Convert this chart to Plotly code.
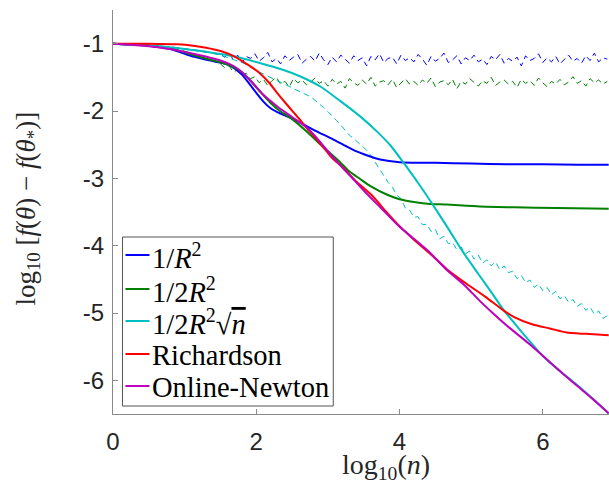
import plotly.graph_objects as go

# ---------------- data ----------------
# solid curves (log10(n), log10 excess risk)
blue_x = [0.0, 0.4, 0.8, 1.12, 1.4, 1.6, 1.7, 1.8, 1.9, 2.0, 2.1, 2.2, 2.3, 2.43, 2.61, 2.8, 3.07, 3.25, 3.4, 3.55, 3.73, 4.0, 4.5, 5.0, 5.5, 6.0, 6.5, 6.92]
blue_y = [-1.0, -1.02, -1.08, -1.19, -1.26, -1.31, -1.37, -1.46, -1.59, -1.73, -1.86, -1.96, -2.02, -2.08, -2.17, -2.28, -2.42, -2.52, -2.6, -2.66, -2.72, -2.76, -2.77, -2.78, -2.79, -2.79, -2.8, -2.8]

green_x = [0.0, 0.4, 0.8, 1.12, 1.4, 1.6, 1.8, 1.92, 2.06, 2.2, 2.33, 2.5, 2.7, 2.9, 3.17, 3.3, 3.45, 3.6, 3.82, 4.0, 4.2, 4.43, 4.66, 5.12, 5.6, 6.2, 6.92]
green_y = [-1.0, -1.02, -1.07, -1.17, -1.25, -1.31, -1.42, -1.55, -1.72, -1.88, -2.0, -2.12, -2.3, -2.5, -2.76, -2.9, -3.01, -3.12, -3.24, -3.31, -3.35, -3.38, -3.39, -3.42, -3.43, -3.44, -3.45]

cyan_x = [0.0, 0.66, 1.0, 1.36, 1.7, 2.06, 2.35, 2.6, 2.9, 3.17, 3.45, 3.69, 3.88, 4.05, 4.26, 4.5, 4.7, 4.89, 5.1, 5.3, 5.45, 5.68, 5.85, 6.0, 6.2, 6.4, 6.6, 6.8, 6.92]
cyan_y = [-1.0, -1.04, -1.08, -1.13, -1.19, -1.29, -1.38, -1.48, -1.64, -1.85, -2.08, -2.31, -2.52, -2.76, -3.07, -3.45, -3.78, -4.1, -4.42, -4.72, -4.95, -5.25, -5.46, -5.64, -5.83, -6.0, -6.18, -6.37, -6.49]

red_x = [0.0, 0.5, 0.9, 1.12, 1.3, 1.5, 1.68, 1.82, 1.95, 2.06, 2.18, 2.29, 2.4, 2.52, 2.61, 2.71, 2.85, 2.99, 3.07, 3.21, 3.4, 3.63, 3.8, 4.0, 4.19, 4.47, 4.66, 4.94, 5.2, 5.45, 5.6, 5.86, 6.1, 6.33, 6.6, 6.92]
red_y = [-1.0, -1.0, -1.01, -1.03, -1.06, -1.11, -1.18, -1.27, -1.36, -1.45, -1.58, -1.73, -1.87, -2.02, -2.13, -2.26, -2.43, -2.61, -2.71, -2.84, -3.05, -3.27, -3.48, -3.71, -3.9, -4.16, -4.35, -4.57, -4.76, -4.96, -5.06, -5.17, -5.23, -5.29, -5.31, -5.33]

magenta_x = [0.0, 0.43, 0.8, 1.12, 1.4, 1.6, 1.75, 1.92, 2.1, 2.29, 2.5, 2.71, 2.9, 3.07, 3.3, 3.5, 3.73, 4.0, 4.19, 4.4, 4.66, 4.9, 5.12, 5.3, 5.5, 5.8, 6.1, 6.3, 6.5, 6.7, 6.92]
magenta_y = [-1.0, -1.03, -1.08, -1.15, -1.22, -1.29, -1.38, -1.55, -1.76, -1.93, -2.09, -2.25, -2.47, -2.69, -2.95, -3.18, -3.43, -3.72, -3.89, -4.08, -4.36, -4.58, -4.82, -5.0, -5.19, -5.45, -5.73, -5.92, -6.1, -6.28, -6.49]

# dashed (noisy) curves, common abscissa
dash_x = [0.0, 0.3, 0.6, 0.9, 1.2,
          1.50, 1.56, 1.62, 1.68, 1.74, 1.80, 1.86, 1.92, 1.98, 2.04,
          2.10, 2.16, 2.22, 2.28, 2.34, 2.40, 2.46, 2.52, 2.58, 2.64,
          2.70, 2.76, 2.82, 2.88, 2.94, 3.00, 3.06, 3.12, 3.18, 3.24,
          3.30, 3.36, 3.42, 3.48, 3.54, 3.60, 3.66, 3.72, 3.78, 3.84,
          3.90, 3.96, 4.02, 4.08, 4.14, 4.20, 4.26, 4.32, 4.38, 4.44,
          4.50, 4.56, 4.62, 4.68, 4.74, 4.80, 4.86, 4.92, 4.98, 5.04,
          5.10, 5.16, 5.22, 5.28, 5.34, 5.40, 5.46, 5.52, 5.58, 5.64,
          5.70, 5.76, 5.82, 5.88, 5.94, 6.00, 6.06, 6.12, 6.18, 6.24,
          6.30, 6.36, 6.42, 6.48, 6.54, 6.60, 6.66, 6.72, 6.78, 6.84,
          6.90]

blue_dash_y = [-1.0, -1.01, -1.03, -1.06, -1.11,
               -1.16, -1.20, -1.14, -1.24, -1.17, -1.28, -1.19, -1.22, -1.15, -1.26,
               -1.21, -1.13, -1.27, -1.22, -1.30, -1.18, -1.25, -1.20, -1.16, -1.29,
               -1.23, -1.19, -1.26, -1.14, -1.24, -1.31, -1.20, -1.27, -1.17, -1.23,
               -1.29, -1.18, -1.25, -1.21, -1.33, -1.19, -1.24, -1.15, -1.28, -1.22,
               -1.20, -1.30, -1.17, -1.25, -1.21, -1.27, -1.16, -1.23, -1.32, -1.19,
               -1.26, -1.22, -1.14, -1.28, -1.24, -1.18, -1.30, -1.21, -1.25, -1.17,
               -1.27, -1.23, -1.31, -1.19, -1.24, -1.16, -1.29, -1.22, -1.26, -1.20,
               -1.33, -1.18, -1.25, -1.22, -1.15, -1.28, -1.21, -1.27, -1.19, -1.30,
               -1.24, -1.17, -1.26, -1.22, -1.29, -1.18, -1.25, -1.14, -1.27, -1.21,
               -1.23]

green_dash_y = [-1.0, -1.01, -1.04, -1.08, -1.18,
                -1.30, -1.36, -1.33, -1.42, -1.39, -1.47, -1.44, -1.52, -1.49, -1.58,
                -1.53, -1.62, -1.55, -1.50, -1.60, -1.56, -1.64, -1.52, -1.58, -1.54,
                -1.61, -1.57, -1.51, -1.59, -1.55, -1.63, -1.53, -1.60, -1.56, -1.66,
                -1.52, -1.58, -1.62, -1.54, -1.60, -1.50, -1.63, -1.57, -1.55, -1.61,
                -1.53, -1.65, -1.58, -1.52, -1.60, -1.56, -1.62, -1.54, -1.59, -1.51,
                -1.64, -1.57, -1.55, -1.61, -1.53, -1.67, -1.56, -1.60, -1.52, -1.58,
                -1.63, -1.55, -1.59, -1.50, -1.62, -1.57, -1.54, -1.60, -1.56, -1.65,
                -1.53, -1.59, -1.55, -1.62, -1.51, -1.58, -1.64, -1.56, -1.60, -1.53,
                -1.61, -1.57, -1.49, -1.59, -1.55, -1.63, -1.52, -1.58, -1.54, -1.60,
                -1.56]

cyan_dash_y = [-1.0, -1.01, -1.03, -1.06, -1.10,
               -1.17, -1.19, -1.21, -1.23, -1.25, -1.28, -1.31, -1.35, -1.39, -1.42,
               -1.45, -1.48, -1.51, -1.54, -1.57, -1.60, -1.63, -1.66, -1.69, -1.72,
               -1.75, -1.79, -1.84, -1.89, -1.95, -2.01, -2.07, -2.14, -2.21, -2.29,
               -2.36, -2.41, -2.47, -2.52, -2.58, -2.66, -2.76, -2.86, -2.95, -3.06,
               -3.13, -3.25, -3.30, -3.44, -3.47, -3.58, -3.57, -3.69, -3.68, -3.79,
               -3.76, -3.90, -3.86, -3.97, -3.95, -4.06, -4.02, -4.12, -4.08, -4.20,
               -4.14, -4.26, -4.21, -4.30, -4.24, -4.36, -4.30, -4.40, -4.38, -4.49,
               -4.44, -4.55, -4.51, -4.62, -4.57, -4.67, -4.62, -4.73, -4.68, -4.79,
               -4.74, -4.84, -4.80, -4.90, -4.86, -4.96, -4.91, -5.02, -4.97, -5.08,
               -5.04]

x_tickvals = [0, 2, 4, 6]
x_ticktext = ["0", "2", "4", "6"]
y_tickvals = [-6, -5, -4, -3, -2, -1]
y_ticktext = ["-6", "-5", "-4", "-3", "-2", "-1"]

legend_labels = ["1/<i>R</i><sup>2</sup>",
                 "1/2<i>R</i><sup>2</sup>",
                 "1/2<i>R</i><sup>2</sup>\u221a<span style=\"text-decoration:overline\"><i>n</i></span>",
                 "Richardson",
                 "Online-Newton"]

# ---------------- style ----------------
C_BLUE = "rgb(0,0,255)"
C_GREEN = "rgb(0,128,0)"
C_CYAN = "rgb(0,191,191)"
C_RED = "rgb(255,0,0)"
C_MAG = "rgb(191,0,191)"
legend_colors = [C_BLUE, C_GREEN, C_CYAN, C_RED, C_MAG]

W, H = 609, 486
# plot area in image pixels
L, R, T, B = 112.5, 609.0, 10.0, 414.0
AXC = "#8a8a8a"
TXT = "#262626"
SERIF = "Liberation Serif, Times New Roman, serif"
SANS = "Liberation Sans, Arial, sans-serif"


def pxx(p):
    return (p - L) / (R - L)


def pxy(p):
    return (B - p) / (B - T)


fig = go.Figure()

DASH = "6px,4px"
fig.add_trace(go.Scatter(x=dash_x, y=blue_dash_y, mode="lines",
                         line=dict(color=C_BLUE, width=1, dash=DASH)))
fig.add_trace(go.Scatter(x=dash_x, y=green_dash_y, mode="lines",
                         line=dict(color=C_GREEN, width=1, dash=DASH)))
fig.add_trace(go.Scatter(x=dash_x, y=cyan_dash_y, mode="lines",
                         line=dict(color=C_CYAN, width=1, dash=DASH)))

for xs, ys, c in [(blue_x, blue_y, C_BLUE), (green_x, green_y, C_GREEN),
                  (cyan_x, cyan_y, C_CYAN), (red_x, red_y, C_RED),
                  (magenta_x, magenta_y, C_MAG)]:
    fig.add_trace(go.Scatter(x=xs, y=ys, mode="lines",
                             line=dict(color=c, width=2, shape="spline", smoothing=0.6)))

# manual legend box
shapes = [dict(type="rect", xref="paper", yref="paper",
               x0=pxx(122), x1=pxx(333), y0=pxy(406), y1=pxy(237),
               line=dict(color="#555555", width=1), fillcolor="white", layer="above")]
annotations = []
leg_rows = [255, 289, 321, 354, 386]
for lab, col, py in zip(legend_labels, legend_colors, leg_rows):
    shapes.append(dict(type="line", xref="paper", yref="paper",
                       x0=pxx(125), x1=pxx(149), y0=pxy(py), y1=pxy(py),
                       line=dict(color=col, width=2), layer="above"))
    annotations.append(dict(xref="paper", yref="paper", x=pxx(150), y=pxy(py + 1),
                            xanchor="left", yanchor="middle", showarrow=False,
                            text=lab, font=dict(family=SERIF, size=28.5, color="black")))

# axis titles
annotations.append(dict(xref="paper", yref="paper", x=pxx(386), y=pxy(467),
                        xanchor="center", yanchor="middle", showarrow=False,
                        text="log<sub>10</sub>(<i>n</i>)",
                        font=dict(family=SERIF, size=28, color=TXT)))
annotations.append(dict(xref="paper", yref="paper", x=pxx(27), y=pxy(209),
                        xanchor="center", yanchor="middle", showarrow=False, textangle=-90,
                        text="log<sub>10</sub> [<i>f</i>(<i>\u03b8</i>) \u2212 <i>f</i>(<i>\u03b8</i><sub>*</sub>)]",
                        font=dict(family=SERIF, size=27, color=TXT)))

fig.update_layout(
    width=W, height=H,
    margin=dict(l=L, r=W - R, t=T, b=H - B, pad=0),
    paper_bgcolor="white", plot_bgcolor="white",
    showlegend=False, hovermode=False,
    shapes=shapes, annotations=annotations,
    xaxis=dict(range=[0, 6.924], tickvals=x_tickvals, ticktext=x_ticktext,
               showgrid=False, zeroline=False, showline=True, linecolor=AXC, linewidth=1,
               ticks="inside", ticklen=5, tickcolor=AXC, tickwidth=1,
               tickfont=dict(family=SANS, size=24, color=TXT), ticklabelstandoff=6),
    yaxis=dict(range=[-6.5, -0.5], tickvals=y_tickvals, ticktext=y_ticktext,
               showgrid=False, zeroline=False, showline=True, linecolor=AXC, linewidth=1,
               ticks="inside", ticklen=5, tickcolor=AXC, tickwidth=1,
               tickfont=dict(family=SANS, size=24, color=TXT), ticklabelstandoff=3),
)

fig.write_html("out.html", config={"displayModeBar": False},
               post_script="document.body.style.margin='0';document.body.style.overflow='hidden';")
